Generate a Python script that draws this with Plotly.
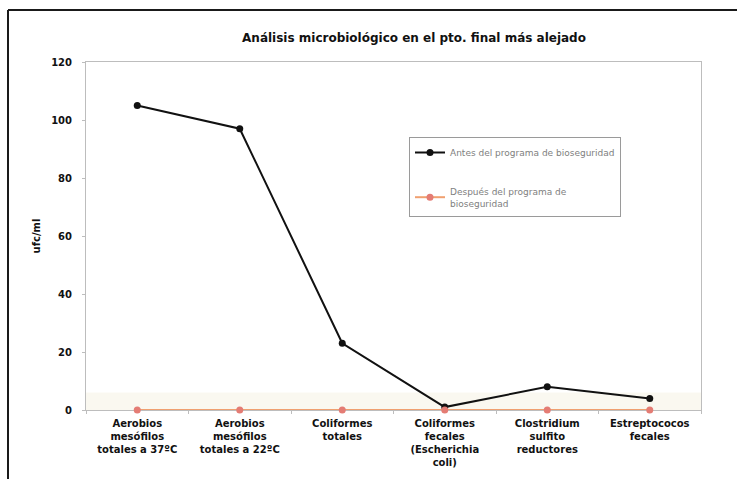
import plotly.graph_objects as go

# Categories of microbiological tests
categorias = [
    "Aerobios<br>mesófilos<br>totales a 37ºC",
    "Aerobios<br>mesófilos<br>totales a 22ºC",
    "Coliformes<br>totales",
    "Coliformes<br>fecales<br>(Escherichia<br>coli)",
    "Clostridium<br>sulfito<br>reductores",
    "Estreptococos<br>fecales",
]

# ufc/ml values for each series
antes = [105, 97, 23, 1, 8, 4]
despues = [0, 0, 0, 0, 0, 0]

nombre_antes = "Antes del programa de bioseguridad"
nombre_despues = "Después del programa de<br>bioseguridad"

y_ticks = [0, 20, 40, 60, 80, 100, 120]

W, H = 737, 479
ML, MR, MT, MB = 86, 36, 62, 69
PW, PH = W - ML - MR, H - MT - MB


def px_x(x):
    return (x - ML) / PW


def px_y(y):
    return (H - MB - y) / PH


FONT = "DejaVu Sans, Verdana, sans-serif"

fig = go.Figure()

fig.add_trace(go.Scatter(
    x=categorias, y=antes, name=nombre_antes, mode="lines+markers",
    line=dict(color="#111111", width=2),
    marker=dict(color="#111111", size=7),
    legendgroup="a", cliponaxis=False,
))
fig.add_trace(go.Scatter(
    x=categorias, y=despues, name=nombre_despues, mode="lines+markers",
    line=dict(color="#f0a070", width=2),
    marker=dict(color="#e47c74", size=7),
    legendgroup="b", cliponaxis=False,
))

shapes = [
    # faint shaded band at the foot of the plot area
    dict(type="rect", xref="paper", yref="y", x0=0, x1=1, y0=0, y1=6,
         fillcolor="rgba(238,232,205,0.3)", line=dict(width=0), layer="below"),
    # outer frame: top and left edges
    dict(type="line", xref="paper", yref="paper",
         x0=px_x(8), x1=px_x(737), y0=px_y(10), y1=px_y(10),
         line=dict(color="#1a1a1a", width=2)),
    dict(type="line", xref="paper", yref="paper",
         x0=px_x(8), x1=px_x(8), y0=px_y(10), y1=px_y(479),
         line=dict(color="#1a1a1a", width=2)),
]

fig.update_layout(
    width=W, height=H,
    margin=dict(l=ML, r=MR, t=MT, b=MB),
    paper_bgcolor="white", plot_bgcolor="white",
    font=dict(family=FONT, color="#111111"),
    showlegend=True,
    title=dict(
        text="Análisis microbiológico en el pto. final más alejado",
        x=px_x(414), xref="paper", xanchor="center",
        y=1 - 38 / H, yref="container", yanchor="middle",
        font=dict(family=FONT, size=12, weight="bold", color="#111111"),
    ),
    legend=dict(
        x=px_x(409), y=px_y(137), xanchor="left", yanchor="top",
        xref="paper", yref="paper",
        bordercolor="#9a9a9a", borderwidth=1, bgcolor="white",
        font=dict(family=FONT, size=9, color="#808080"),
        tracegroupgap=22, itemwidth=30,
    ),
    xaxis=dict(
        type="category", showgrid=False,
        showline=True, linecolor="#bdbdbd", linewidth=1, mirror=True,
        ticks="outside", tickson="boundaries", ticklen=3, tickcolor="#bdbdbd",
        ticklabelstandoff=4, layer="below traces",
        tickfont=dict(family=FONT, size=10, weight="bold", color="#111111"),
        range=[-0.5, 5.5],
    ),
    yaxis=dict(
        range=[0, 120], tickvals=y_ticks, showgrid=False,
        showline=True, linecolor="#bdbdbd", linewidth=1, mirror=True,
        ticks="outside", ticklen=3, tickcolor="#bdbdbd",
        ticklabelstandoff=8, layer="below traces",
        tickfont=dict(family=FONT, size=10, weight="bold", color="#111111"),
        title=dict(text="ufc/ml", standoff=8,
                   font=dict(family=FONT, size=10, weight="bold", color="#111111")),
        zeroline=False,
    ),
    shapes=shapes,
)

fig.write_html("out.html")
